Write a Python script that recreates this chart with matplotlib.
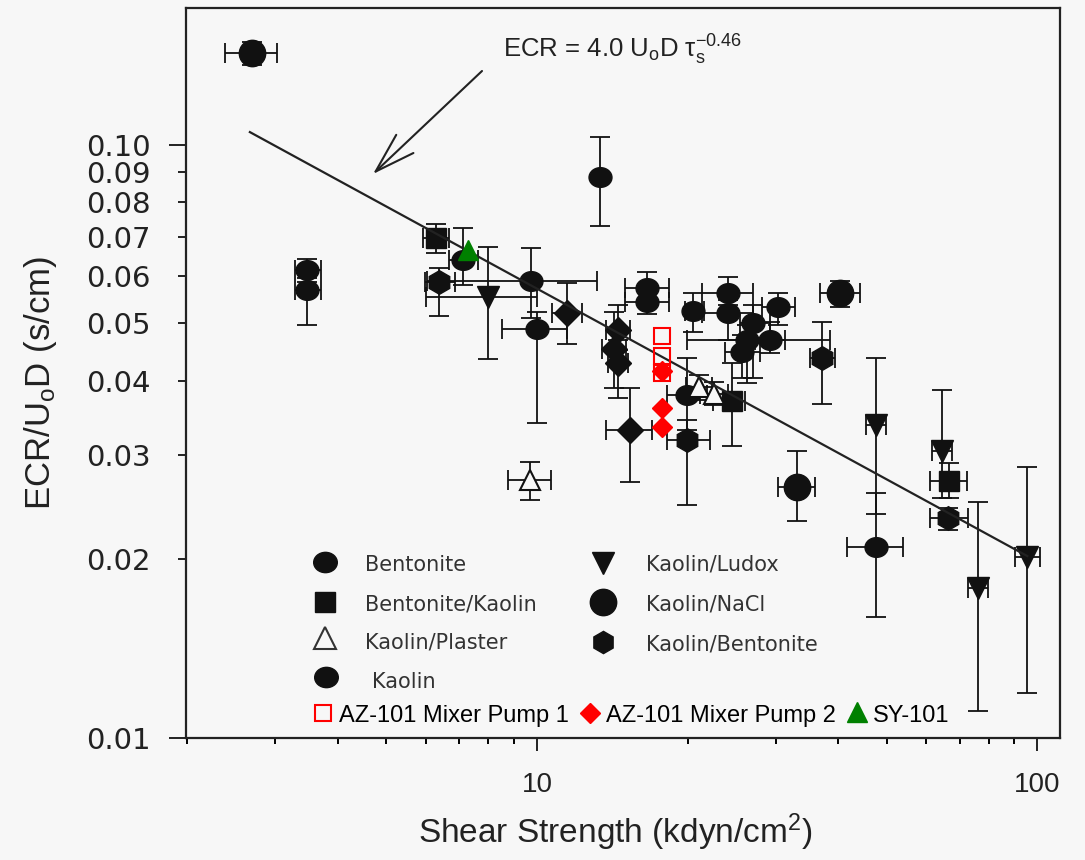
import numpy as np
import matplotlib
matplotlib.use("Agg")
import matplotlib.pyplot as plt
from matplotlib.path import Path
from matplotlib.ticker import FixedLocator, FixedFormatter, NullFormatter

plt.rcParams['font.family'] = ['Liberation Sans', 'DejaVu Sans']
plt.rcParams['mathtext.fontset'] = 'custom'
plt.rcParams['mathtext.rm'] = 'Liberation Sans'
plt.rcParams['mathtext.it'] = 'Liberation Sans:italic'
plt.rcParams['mathtext.bf'] = 'Liberation Sans:bold'

# ---- data: shear strength (kdyn/cm^2) vs ECR/U0D (s/cm), with error ranges ----
bentonite_x = [3.48, 3.48, 16.6, 16.6, 24.1, 24.1, 27.0, 26.3, 25.7, 29.2, 30.3]
bentonite_y = [0.0615, 0.0569, 0.0574, 0.0544, 0.0563, 0.0521, 0.0501, 0.0469, 0.0448, 0.0469, 0.0533]
bentonite_xrange = [(3.28, 3.70), (3.28, 3.70), (15.0, 18.4), (15.0, 18.4), (21.4, 27.0), (21.4, 27.0),
                    (25.5, 29.2), (19.95, 38.6), (23.8, 27.9), (27.3, 31.3), (28.2, 32.8)]
bentonite_yrange = [(0.0597, 0.0642), (0.0497, 0.0587), (0.0548, 0.0611), (0.0519, 0.0569), (0.0537, 0.0599),
                    (0.0469, 0.0548), (0.0405, 0.0537), (0.0397, 0.0497), (0.0405, 0.0478), (0.0446, 0.0503),
                    (0.0497, 0.0563)]

kaolin_x = [7.11, 9.73, 10.0, 13.4, 20.5, 19.95, 47.6]
kaolin_y = [0.0640, 0.0590, 0.0489, 0.0883, 0.0525, 0.0379, 0.0210]
kaolin_xrange = [(6.67, 7.62), (6.03, 13.2), (8.51, 11.5), None, (19.8, 21.6), (18.2, 21.9), (41.7, 54.0)]
kaolin_yrange = [(0.0581, 0.0724), (0.0511, 0.0670), (0.0340, 0.0523), (0.0730, 0.1032), (0.0484, 0.0563),
                 (0.0331, 0.0437), (0.0160, 0.0259)]

nacl_x = [2.69, 40.4, 33.1]
nacl_y = [0.1429, 0.0563, 0.0265]
nacl_xrange = [(2.38, 3.02), (36.8, 44.3), (30.3, 36.0)]
nacl_yrange = [(0.1364, 0.1492), (0.0533, 0.0590), (0.0232, 0.0305)]

kb_x = [6.37, 37.15, 19.95, 66.4]
kb_y = [0.0587, 0.0437, 0.0318, 0.0235]
kb_xrange = [(5.97, 6.86), (35.2, 39.5), (18.2, 22.2), (61.1, 72.8)]
kb_yrange = [(0.0515, 0.0620), (0.0366, 0.0503), (0.0247, 0.0344), (0.0224, 0.0244)]

bk_x = [6.28, 24.55, 66.7]
bk_y = [0.0697, 0.0370, 0.0271]
bk_xrange = [(5.92, 6.67), (22.5, 26.1), (61.1, 72.4)]
bk_yrange = [(0.0657, 0.0736), (0.0310, 0.0429), (0.0254, 0.0291)]

plaster_x = [9.68, 21.1, 22.6]
plaster_y = [0.0272, 0.0391, 0.0380]
plaster_xrange = [(8.75, 10.67), (19.9, 22.4), (21.2, 24.1)]
plaster_yrange = [(0.0252, 0.0292), (0.0372, 0.0409), (0.0364, 0.0398)]

ludox_x = [7.98, 47.6, 64.6, 76.2, 95.5]
ludox_y = [0.0554, 0.0337, 0.0305, 0.0179, 0.0202]
ludox_xrange = [(6.0, 10.0), (45.5, 49.9), (61.7, 67.6), (72.8, 79.8), (90.4, 101.4)]
ludox_yrange = [(0.0436, 0.0673), (0.0239, 0.0437), (0.0254, 0.0386), (0.0111, 0.0250), (0.0119, 0.0286)]

diamond_x = [11.48, 14.52, 14.26, 14.52, 15.35]
diamond_y = [0.0521, 0.0488, 0.0453, 0.0429, 0.0331]
diamond_xrange = [(10.72, 12.30), (13.74, 15.35), (13.49, 15.07), (13.87, 15.21), (13.74, 16.98)]
diamond_yrange = [(0.0462, 0.0585), (0.0451, 0.0537), (0.0389, 0.0523), (0.0374, 0.0469), (0.0270, 0.0389)]

mp1_x = [17.8, 17.8, 17.8]
mp1_y = [0.0476, 0.0441, 0.0413]
mp2_x = [17.8, 17.8, 17.8]
mp2_y = [0.0416, 0.0360, 0.0335]
sy101_x = [7.28]
sy101_y = [0.0665]

# correlation ECR/U0D = C * tau^-0.46
fit_coef = 0.165
fit_exp = -0.46
fit_xrange = [2.67, 95.5]

x_major = [10, 100]
x_minor = [2, 3, 4, 5, 6, 7, 8, 9, 20, 30, 40, 50, 60, 70, 80, 90]
y_major = [0.01, 0.10]
y_minor = [0.02, 0.03, 0.04, 0.05, 0.06, 0.07, 0.08, 0.09]

BG = '#f7f7f7'
INK = '#111111'

fig = plt.figure(figsize=(10.85, 8.6), dpi=100, facecolor=BG)
ax = fig.add_axes([186 / 1085, (860 - 738) / 860, (1060 - 186) / 1085, (738 - 8) / 860])
ax.set_facecolor(BG)
ax.set_xscale('log')
ax.set_yscale('log')
ax.set_xlim(1.99, 111)
ax.set_ylim(0.01, 0.170)

circ = Path.unit_circle()
ellipse = Path(circ.vertices * np.array([1.0, 0.86]), circ.codes)


def to_err(vals, ranges):
    lo = np.array([v - r[0] if r else np.nan for v, r in zip(vals, ranges)])
    hi = np.array([r[1] - v if r else np.nan for v, r in zip(vals, ranges)])
    return np.vstack([lo, hi])


groups = [
    (bentonite_x, bentonite_y, bentonite_xrange, bentonite_yrange, dict(marker=ellipse, ms=16.5, mfc=INK)),
    (kaolin_x, kaolin_y, kaolin_xrange, kaolin_yrange, dict(marker=ellipse, ms=16.5, mfc=INK)),
    (nacl_x, nacl_y, nacl_xrange, nacl_yrange, dict(marker='o', ms=19, mfc=INK)),
    (kb_x, kb_y, kb_xrange, kb_yrange, dict(marker='h', ms=17, mfc=INK)),
    (bk_x, bk_y, bk_xrange, bk_yrange, dict(marker='s', ms=14, mfc=INK)),
    (ludox_x, ludox_y, ludox_xrange, ludox_yrange, dict(marker='v', ms=15.5, mfc=INK)),
    (diamond_x, diamond_y, diamond_xrange, diamond_yrange, dict(marker='D', ms=13.5, mfc=INK)),
    (plaster_x, plaster_y, plaster_xrange, plaster_yrange, dict(marker='^', ms=14, mfc=BG, mew=1.5)),
]

for gx, gy, gxr, gyr, style in groups:
    ax.errorbar(gx, gy, xerr=to_err(gx, gxr), yerr=to_err(gy, gyr), fmt='none',
                ecolor=INK, elinewidth=1.3, capsize=7, capthick=1.3, zorder=2)
    ax.plot(gx, gy, linestyle='none', mec=INK, zorder=3, **style)

# fitted correlation line
fx = np.array(fit_xrange)
ax.plot(fx, fit_coef * fx ** fit_exp, color='#222222', lw=1.6, zorder=4)

# tank measurements
ax.plot(mp1_x, mp1_y, linestyle='none', marker='s', ms=11, mfc='none', mec='#ff0000', mew=1.5, zorder=5)
ax.plot(mp2_x, mp2_y, linestyle='none', marker='D', ms=10, mfc='#ff0000', mec='#ff0000', zorder=6)
ax.plot(sy101_x, sy101_y, linestyle='none', marker='^', ms=15, mfc='#008000', mec='#008000', zorder=6)

# axes styling
for sp in ax.spines.values():
    sp.set_linewidth(1.6)
    sp.set_color('#222222')

ax.xaxis.set_major_locator(FixedLocator(x_major))
ax.xaxis.set_major_formatter(FixedFormatter([str(v) for v in x_major]))
ax.xaxis.set_minor_locator(FixedLocator(x_minor))
ax.xaxis.set_minor_formatter(NullFormatter())
ax.yaxis.set_major_locator(FixedLocator(y_major))
ax.yaxis.set_major_formatter(FixedFormatter([f'{v:.2f}' for v in y_major]))
ax.yaxis.set_minor_locator(FixedLocator(y_minor))
ax.yaxis.set_minor_formatter(FixedFormatter([f'{v:.2f}' for v in y_minor]))

ax.tick_params(axis='x', which='major', direction='out', length=9.5, width=1.4, pad=15,
               labelsize=20, colors='#222222')
ax.tick_params(axis='x', which='minor', direction='out', length=4.5, width=1.4)
ax.tick_params(axis='y', which='major', direction='out', length=12, width=1.4, pad=13.5,
               labelsize=21, colors='#222222')
ax.tick_params(axis='y', which='minor', direction='out', length=6, width=1.4, pad=19.5,
               labelsize=21, colors='#222222')
for lab in ax.get_yticklabels(which='both'):
    lab.set_family('DejaVu Sans')

ax.set_xlabel(r'Shear Strength (kdyn/cm$^\mathregular{2}$)', fontsize=24, color='#222222')
ax.xaxis.label.set_va('center')
ax.xaxis.set_label_coords(0.491, -0.1288)
ax.set_ylabel(r'ECR/U$_\mathregular{o}$D (s/cm)', fontsize=25, color='#222222')
ax.yaxis.label.set_va('center')
ax.yaxis.set_label_coords(-0.167, 0.486)


def axfrac(px, py):
    return (px - 186) / 874, (738 - py) / 730


# correlation annotation with arrow
ax.text(*axfrac(503, 58), r'ECR = 4.0 U$_\mathregular{o}$D τ$_\mathregular{s}^\mathregular{-0.46}$',
        transform=ax.transAxes, fontsize=18.5, color='#222222', ha='left', va='baseline')
ax.annotate('', xy=axfrac(373, 174), xytext=axfrac(482, 71), xycoords='axes fraction',
            textcoords='axes fraction',
            arrowprops=dict(arrowstyle='->,head_length=1.45,head_width=0.45', lw=1.5, color='#222222',
                            mutation_scale=20, shrinkA=0, shrinkB=0))

# material legend
leg_items = [
    (325, 562, 365, 571, dict(marker=ellipse, ms=17, mfc=INK, mec=INK), 'Bentonite'),
    (325, 602, 365, 611, dict(marker='s', ms=14, mfc=INK, mec=INK), 'Bentonite/Kaolin'),
    (325, 638, 365, 649, dict(marker='^', ms=16, mfc=BG, mec='#333333', mew=1.5), 'Kaolin/Plaster'),
    (326, 677, 372, 688, dict(marker=ellipse, ms=17, mfc=INK, mec=INK), 'Kaolin'),
    (603, 563, 646, 571, dict(marker='v', ms=16, mfc=INK, mec=INK), 'Kaolin/Ludox'),
    (603, 602, 646, 611, dict(marker='o', ms=19, mfc=INK, mec=INK), 'Kaolin/NaCl'),
    (603, 642, 646, 650, dict(marker='h', ms=16, mfc=INK, mec=INK), 'Kaolin/Bentonite'),
]
for mx, my, tx, ty, style, label in leg_items:
    ax.plot(*axfrac(mx, my), transform=ax.transAxes, linestyle='none', clip_on=False, **style)
    ax.text(*axfrac(tx, ty), label, transform=ax.transAxes, fontsize=15, color='#333333',
            family='DejaVu Sans', ha='left', va='baseline')

# tank legend
tank_items = [
    (323, 713, 339, dict(marker='s', ms=11, mfc='none', mec='#ff0000', mew=1.5), 'AZ-101 Mixer Pump 1'),
    (590, 713, 606, dict(marker='D', ms=10, mfc='#ff0000', mec='#ff0000'), 'AZ-101 Mixer Pump 2'),
    (857, 712, 873, dict(marker='^', ms=15, mfc='#008000', mec='#008000'), 'SY-101'),
]
for mx, my, tx, style, label in tank_items:
    ax.plot(*axfrac(mx, my), transform=ax.transAxes, linestyle='none', clip_on=False, **style)
    ax.text(*axfrac(tx, 722), label, transform=ax.transAxes, fontsize=17, color='black',
            ha='left', va='baseline')

fig.savefig('out.png', dpi=100, facecolor=BG)
